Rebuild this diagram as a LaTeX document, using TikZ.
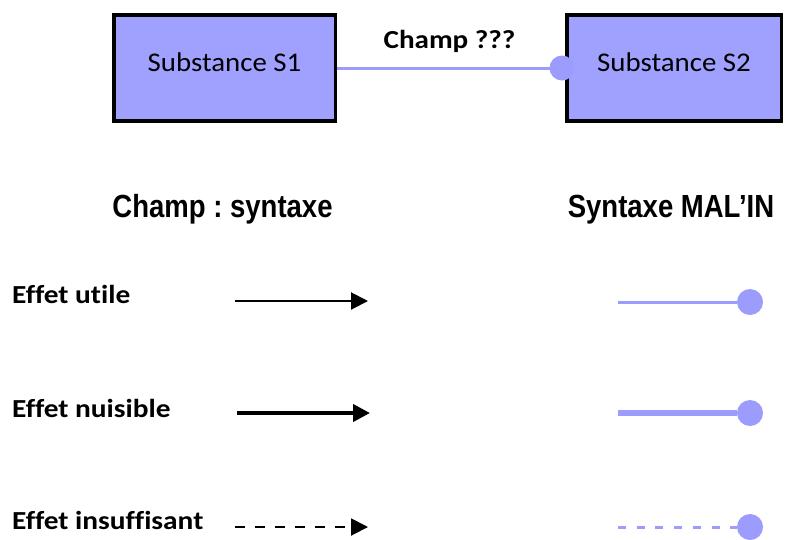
\documentclass[tikz,border=0pt]{standalone}
\usepackage{fontspec}
\setmainfont{Carlito}[Ligatures=NoCommon]
\newfontfamily\boxfont{Carlito}[FakeStretch=1.07,Ligatures=NoCommon]
\newfontfamily\champfont{Carlito}[FakeStretch=1.12,Ligatures=NoCommon]
\newfontfamily\legfont{Carlito}[FakeStretch=1.13,Ligatures=NoCommon]
\newfontfamily\headfont{Liberation Sans}[FakeStretch=0.86]
\usetikzlibrary{positioning,arrows.meta}
\definecolor{malin}{HTML}{A0A0FF}
\definecolor{malinline}{HTML}{9C9CFF}
\frenchspacing

\begin{document}
\begin{tikzpicture}[
      x=1pt,y=-1pt,
      >={Triangle[length=17pt,width=17pt]},
      subst/.style={draw=black,line width=3.5pt,fill=malin,minimum height=106pt,align=center,text height=19pt,text depth=13pt,font=\boxfont\fontsize{27}{32}\selectfont},
      legend/.style={anchor=base west,font=\legfont\fontsize{26}{31}\selectfont\bfseries,inner sep=0pt},
      head/.style={anchor=base,font=\headfont\fontsize{32}{38}\selectfont\bfseries,inner sep=0pt},
      dot/.style={circle,fill=malinline,minimum size=26pt,inner sep=0pt},
      arr/.style={->,black,line width=2pt},
      blob/.style={malinline,line width=3pt}
    ]
      \useasboundingbox (0,0) rectangle (786,539);

      \node[subst,minimum width=221.5pt] (s1) at (224.5,68) {Substance S1};
      \node[subst,minimum width=214.5pt] (s2) at (674,68) {Substance S2};
      \node[dot,minimum size=25pt] (s2dot) at ([xshift=-3pt]s2.west) {};
      \draw[blob] (s1.east) -- node[midway,anchor=base,yshift=20pt,inner sep=0pt,font=\champfont\fontsize{26}{31}\selectfont\bfseries,text=black]{Champ ???} (s2dot.center);

      \node[head] (hchamp) at (222.5,217) {Champ : syntaxe};
      \node[head] (hmalin) at (671,217) {Syntaxe MAL’IN};

      \node[legend] (utile) at (12,303) {Effet utile};
      \node[legend] (nuisible) at (12,417) {Effet nuisible};
      \node[legend] (insuff) at (12,529) {Effet insuffisant};

      \coordinate (a1) at (235,301); \coordinate (b1) at (368,301);
      \coordinate (a2) at (237,413); \coordinate (b2) at (370,413);
      \coordinate (a3) at (235,527); \coordinate (b3) at (368,527);
      \draw[arr] (a1) -- (b1);
      \draw[arr,line width=4pt] (a2) -- (b2);
      \draw[arr,dash pattern=on 10pt off 10pt] (a3) -- (b3);

      \coordinate (c1) at (618,302); \node[dot] (d1) at (750,302) {};
      \coordinate (c2) at (618,413); \node[dot] (d2) at (750,413) {};
      \coordinate (c3) at (618,527); \node[dot] (d3) at (750,527) {};
      \draw[blob] (c1) -- (d1);
      \draw[blob,line width=5.5pt] (c2) -- (d2);
      \draw[blob,dash pattern=on 8pt off 10.7pt] (c3) -- (d3);
    \end{tikzpicture}
\end{document}
